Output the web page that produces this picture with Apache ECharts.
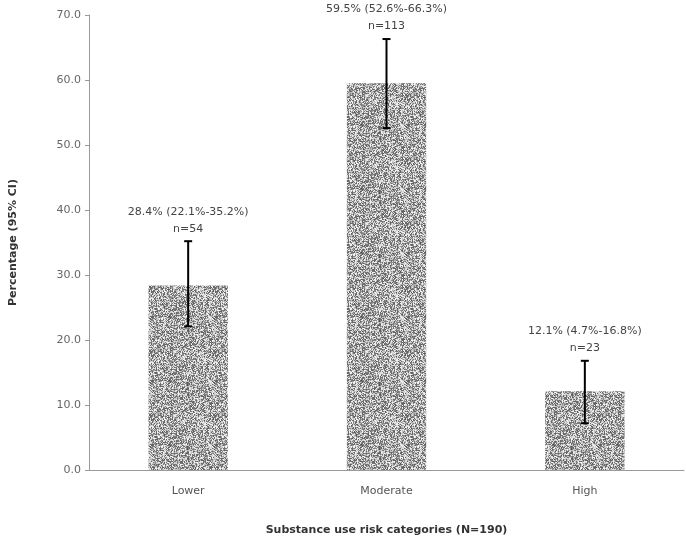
<!DOCTYPE html>
<html><head><meta charset="utf-8">
<script src="https://cdn.jsdelivr.net/npm/echarts@6/dist/echarts.min.js"></script>
<style>html,body{margin:0;padding:0;background:#fff}#c{width:686px;height:541px}</style>
</head><body><div id="c"></div>
<script>
const categories = ['Lower', 'Moderate', 'High'];
const percentages = [28.4, 59.5, 12.1];
const ciLow = [22.1, 52.6, 7.2];
const ciHigh = [35.2, 66.3, 16.8];
const barLabels = ['28.4% (22.1%-35.2%)\nn=54', '59.5% (52.6%-66.3%)\nn=113', '12.1% (4.7%-16.8%)\nn=23'];
const yTicks = [0, 10, 20, 30, 40, 50, 60, 70];

// speckled texture for bars (deterministic)
const pc = document.createElement('canvas'); pc.width = 64; pc.height = 64;
const pctx = pc.getContext('2d');
const img = pctx.createImageData(64, 64);
let s = 12345;
for (let i = 0; i < 64 * 64; i++) {
  s = (s * 1103515245 + 12345) & 0x7fffffff;
  const r = s / 0x7fffffff;
  const v = r < 0.45 ? 90 + Math.floor(r * 120) : 170 + Math.floor((r - 0.45) * 150);
  img.data[i * 4] = v; img.data[i * 4 + 1] = v; img.data[i * 4 + 2] = v; img.data[i * 4 + 3] = 255;
}
pctx.putImageData(img, 0, 0);

const chart = echarts.init(document.getElementById('c'));
chart.setOption({
  animation: false,
  grid: { left: 87, right: 2, top: 15, bottom: 65 },
  xAxis: {
    type: 'category', data: categories,
    axisLine: { lineStyle: { color: '#999' } }, axisTick: { show: false },
    axisLabel: { color: '#555', fontSize: 11, fontFamily: 'DejaVu Sans', margin: 16 },
    name: 'Substance use risk categories (N=190)', nameLocation: 'middle', nameGap: 55,
    nameTextStyle: { fontWeight: 'bold', fontSize: 11, color: '#333', fontFamily: 'DejaVu Sans' }
  },
  yAxis: {
    type: 'value', min: yTicks[0], max: yTicks[yTicks.length - 1], interval: 10,
    axisLine: { show: true, lineStyle: { color: '#999' } }, axisTick: { show: true, length: 4, inside: false, lineStyle: { color: '#999' } },
    splitLine: { show: false },
    axisLabel: { color: '#666', fontSize: 11, fontFamily: 'DejaVu Sans', formatter: v => v.toFixed(1) },
    name: 'Percentage (95% CI)', nameLocation: 'middle', nameGap: 70,
    nameTextStyle: { fontWeight: 'bold', fontSize: 11, color: '#333', fontFamily: 'DejaVu Sans' }
  },
  series: [
    { type: 'bar', data: percentages, barWidth: '40%',
      itemStyle: { color: { image: pc, repeat: 'repeat' } } },
    { type: 'custom', z: 10,
      data: categories.map((c, i) => [i, ciLow[i], ciHigh[i]]),
      renderItem: (params, api) => {
        const lo = api.coord([api.value(0), api.value(1)]);
        const hi = api.coord([api.value(0), api.value(2)]);
        const w = 4;
        const st = { stroke: '#000', lineWidth: 2 };
        return { type: 'group', children: [
          { type: 'line', shape: { x1: hi[0], y1: hi[1], x2: lo[0], y2: lo[1] }, style: st },
          { type: 'line', shape: { x1: hi[0] - w, y1: hi[1], x2: hi[0] + w, y2: hi[1] }, style: st },
          { type: 'line', shape: { x1: lo[0] - w, y1: lo[1], x2: lo[0] + w, y2: lo[1] }, style: st },
          { type: 'text', x: hi[0], y: hi[1] - 4, style: { text: barLabels[params.dataIndex], textAlign: 'center', textVerticalAlign: 'bottom', fill: '#444', font: '11px DejaVu Sans', lineHeight: 17 } }
        ] };
      }
    }
  ]
});
</script></body></html>
